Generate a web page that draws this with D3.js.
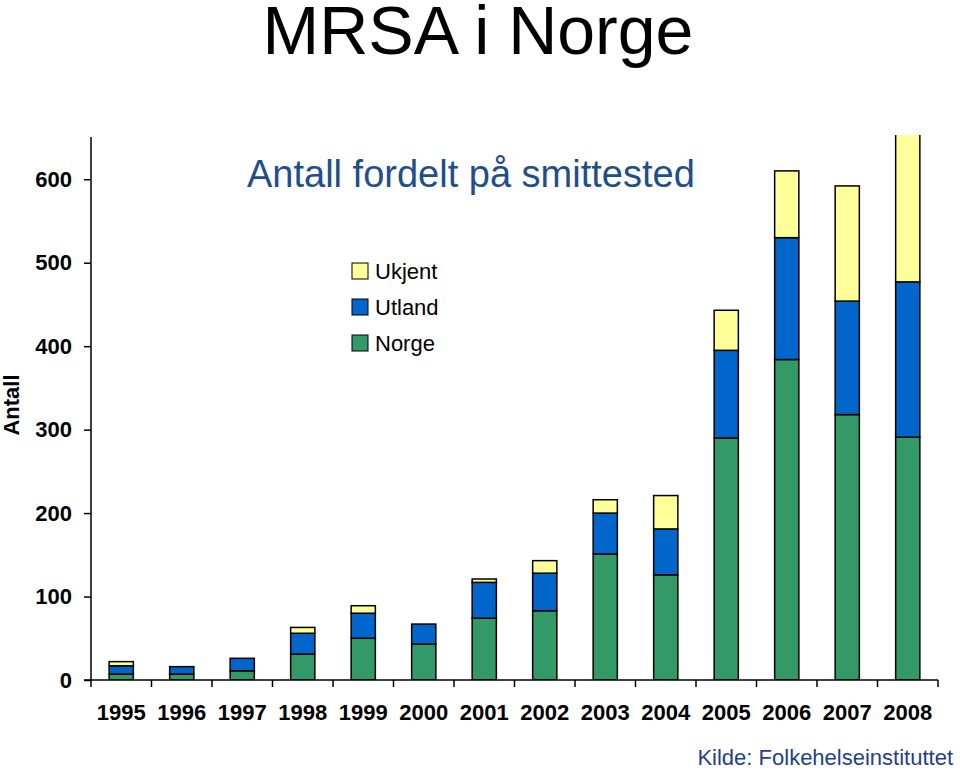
<!DOCTYPE html>
<html>
<head>
<meta charset="utf-8">
<script src="https://cdn.jsdelivr.net/npm/d3@7"></script>
<style>
  body { margin: 0; background: #fff; }
</style>
</head>
<body>
<div id="chart"></div>
<script>
let years  = ["1995","1996","1997","1998","1999","2000","2001","2002","2003","2004","2005","2006","2007","2008"];
let norge  = [7, 7, 11, 31, 50, 43, 74, 83, 151, 126, 290, 384, 318, 291];
let utland = [10, 9, 15, 25, 30, 24, 43, 45, 49, 55, 105, 146, 136, 186];
let ukjent = [5, 0, 0, 7, 9, 0, 4, 15, 16, 40, 48, 80, 138, 190];
let yTicks = [0, 100, 200, 300, 400, 500, 600];
let serier = ["Norge", "Utland", "Ukjent"];
let farger = ["#339966", "#0066cc", "#ffff99"];

let larg = 960;
let alt = 772;
let venstre = 91, hoyre = 938, topp = 135, bunn = 680;

let rader = years.map((y, i) => ({aar: y, Norge: norge[i], Utland: utland[i], Ukjent: ukjent[i]}));

let canvas = d3.select("#chart")
    .append("svg")
    .attr("width", larg)
    .attr("height", alt)
    .style("font-family", "Liberation Sans, Arial, sans-serif");

let x = d3.scaleBand()
    .domain(years)
    .range([venstre, hoyre])
    .paddingInner(0.6)
    .paddingOuter(0.3);

let y = d3.scaleLinear()
    .domain([0, 653])
    .range([bunn, topp]);

let cor = d3.scaleOrdinal().domain(serier).range(farger);

canvas.append("clipPath")
    .attr("id", "klipp")
    .append("rect")
    .attr("x", venstre).attr("y", topp)
    .attr("width", hoyre - venstre).attr("height", bunn - topp);

let stablet = d3.stack().keys(serier)(rader);

canvas.append("g")
    .attr("clip-path", "url(#klipp)")
    .selectAll("g")
    .data(stablet)
    .enter()
    .append("g")
    .attr("fill", d => cor(d.key))
    .selectAll("rect")
    .data(d => d.filter(s => s[1] > s[0]))
    .enter()
    .append("rect")
    .attr("x", d => x(d.data.aar))
    .attr("width", x.bandwidth())
    .attr("y", d => y(d[1]))
    .attr("height", d => y(d[0]) - y(d[1]))
    .attr("stroke", "#000")
    .attr("stroke-width", 1.5);

// y-akse
let yAkse = d3.axisLeft(y).tickValues(yTicks).tickSize(7).tickPadding(12);
let gy = canvas.append("g")
    .attr("transform", "translate(" + venstre + ",0)")
    .call(yAkse);
gy.select(".domain").attr("d", "M0," + (topp + 2) + "V" + bunn);
gy.selectAll("text")
    .style("font", "bold 22px Liberation Sans, Arial, sans-serif")
    .attr("fill", "#000");
gy.selectAll("line, path").attr("stroke", "#000").attr("stroke-width", 1.5);

// x-akse
let xAkse = d3.axisBottom(x).tickSize(0).tickPadding(24);
let gx = canvas.append("g")
    .attr("transform", "translate(0," + bunn + ")")
    .call(xAkse);
gx.select(".domain").attr("d", "M" + (venstre - 7) + ",0H" + hoyre);
gx.selectAll("text")
    .style("font", "bold 22px Liberation Sans, Arial, sans-serif")
    .attr("fill", "#000");
gx.select(".domain").attr("stroke", "#000").attr("stroke-width", 1.5);

// skillestreker mellom kategorier
gx.selectAll(".skille")
    .data(d3.range(years.length + 1))
    .enter()
    .append("line")
    .attr("x1", i => venstre + i * (hoyre - venstre) / years.length)
    .attr("x2", i => venstre + i * (hoyre - venstre) / years.length)
    .attr("y1", 0)
    .attr("y2", 7)
    .attr("stroke", "#000")
    .attr("stroke-width", 1.5);

// titler
canvas.append("text")
    .attr("x", 478).attr("y", 54)
    .attr("text-anchor", "middle")
    .style("font-size", "68px")
    .attr("fill", "#000")
    .text("MRSA i Norge");

canvas.append("text")
    .attr("x", 247).attr("y", 187)
    .style("font-size", "38px")
    .attr("fill", "#1f4e8c")
    .text("Antall fordelt på smittested");

canvas.append("text")
    .attr("transform", "translate(19,405) rotate(-90)")
    .attr("text-anchor", "middle")
    .style("font", "bold 22px Liberation Sans, Arial, sans-serif")
    .attr("fill", "#000")
    .text("Antall");

canvas.append("text")
    .attr("x", 953).attr("y", 765)
    .attr("text-anchor", "end")
    .style("font-size", "22px")
    .attr("fill", "#1f3f8f")
    .text("Kilde: Folkehelseinstituttet");

// legende
let legende = canvas.append("g").attr("transform", "translate(352,263)");
let legRader = serier.slice().reverse();
let leg = legende.selectAll("g")
    .data(legRader)
    .enter()
    .append("g")
    .attr("transform", (d, i) => "translate(0," + i * 36 + ")");
leg.append("rect")
    .attr("width", 16).attr("height", 16)
    .attr("fill", d => cor(d))
    .attr("stroke", "#000")
    .attr("stroke-width", 1);
leg.append("text")
    .attr("x", 23).attr("y", 16)
    .style("font-size", "22px")
    .attr("fill", "#000")
    .text(d => d);
</script>
</body>
</html>
